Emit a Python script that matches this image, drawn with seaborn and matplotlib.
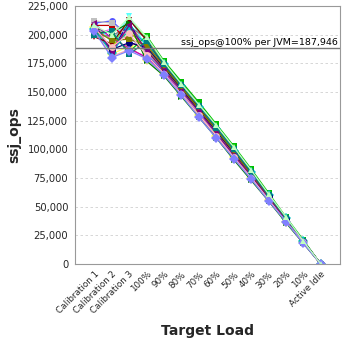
import matplotlib
matplotlib.use("Agg")
import matplotlib.pyplot as plt
import matplotlib.ticker as mticker
import seaborn as sns
import pandas as pd

categories = ["Calibration 1", "Calibration 2", "Calibration 3", "100%", "90%", "80%",
              "70%", "60%", "50%", "40%", "30%", "20%", "10%", "Active Idle"]

# ssj_ops per JVM, thousands
jvm01 = [205, 196, 209, 190, 172, 153, 134, 116, 97, 78, 59, 39, 20, 0]
jvm02 = [210, 212, 198, 185, 170, 151, 133, 115, 96, 77, 58, 39, 19, 0]
jvm03 = [202, 188, 214, 196, 175, 156, 137, 118, 99, 80, 60, 40, 20, 0]
jvm04 = [207, 183, 190, 178, 166, 148, 130, 112, 93, 75, 56, 37, 19, 0]
jvm05 = [200, 205, 201, 193, 173, 155, 136, 117, 98, 79, 59, 39, 20, 0]
jvm06 = [211, 193, 216, 188, 169, 151, 132, 114, 95, 77, 57, 38, 19, 0]
jvm07 = [204, 181, 187, 181, 165, 147, 129, 111, 92, 74, 55, 37, 18, 0]
jvm08 = [199, 199, 207, 197, 176, 158, 139, 120, 101, 81, 61, 40, 20, 0]
jvm09 = [208, 208, 194, 186, 171, 152, 134, 115, 96, 77, 58, 38, 19, 0]
jvm10 = [203, 186, 211, 183, 168, 150, 131, 113, 94, 76, 57, 38, 19, 0]
jvm11 = [206, 201, 185, 199, 177, 159, 141, 122, 103, 83, 62, 41, 21, 0]
jvm12 = [201, 190, 203, 187, 170, 152, 133, 115, 96, 77, 58, 39, 19, 0]
jvm13 = [209, 197, 188, 180, 167, 149, 131, 112, 94, 75, 56, 38, 19, 0]
jvm14 = [205, 184, 205, 192, 174, 155, 137, 118, 99, 80, 60, 40, 20, 0]
jvm15 = [212, 210, 199, 184, 169, 150, 132, 114, 95, 76, 57, 38, 19, 0]
jvm16 = [198, 192, 213, 195, 173, 154, 136, 117, 98, 79, 59, 39, 20, 0]
jvm17 = [207, 187, 193, 189, 171, 153, 134, 116, 97, 78, 59, 39, 20, 0]
jvm18 = [202, 202, 210, 177, 164, 146, 128, 110, 91, 73, 55, 36, 18, 0]
jvm19 = [204, 195, 196, 191, 172, 154, 135, 117, 98, 78, 59, 39, 20, 0]
jvm20 = [210, 185, 208, 186, 169, 151, 133, 114, 95, 77, 58, 38, 19, 0]
jvm21 = [200, 203, 183, 194, 174, 156, 138, 119, 100, 80, 60, 40, 20, 0]
jvm22 = [206, 189, 201, 182, 166, 148, 130, 112, 93, 75, 56, 37, 19, 0]
jvm23 = [203, 180, 186, 179, 165, 147, 128, 110, 92, 74, 55, 37, 18, 0]
jvm24 = [208, 200, 215, 198, 176, 157, 139, 121, 102, 82, 61, 41, 20, 0]

series = [jvm01, jvm02, jvm03, jvm04, jvm05, jvm06, jvm07, jvm08, jvm09, jvm10, jvm11, jvm12,
          jvm13, jvm14, jvm15, jvm16, jvm17, jvm18, jvm19, jvm20, jvm21, jvm22, jvm23, jvm24]

ref_value = 187946
ref_label = "ssj_ops@100% per JVM=187,946"

colors = ["#FF5555", "#5555FF", "#55FF55", "#FFFF55", "#FF55FF", "#55FFFF", "#FFAFAF", "#808080",
          "#C00000", "#0000C0", "#00C000", "#C0C000", "#C000C0", "#00C0C0", "#C0C0C0", "#800000",
          "#000080", "#008000", "#808000", "#800080", "#008080", "#FFC0C0", "#8080FF", "#C0FFC0"]
markers = ["s", "o", "^", "D", "s", "v", "o", ">", "s", "<", "s", "o",
           "^", "D", "s", "v", "o", ">", "s", "<", "s", "o", "D", "^"]

rows = []
for i, vals in enumerate(series):
    name = f"JVM {i + 1}"
    for c, v in zip(categories, vals):
        rows.append({"load": c, "ops": v * 1000, "jvm": name})
df = pd.DataFrame(rows)

sns.set_style("white")
fig = plt.figure(figsize=(3.48, 3.48), dpi=100)
ax = fig.add_axes([0.216, 0.241, 0.761, 0.742])

names = [f"JVM {i + 1}" for i in range(len(series))]
sns.lineplot(data=df, x="load", y="ops", hue="jvm", style="jvm", hue_order=names,
             style_order=names, palette=colors, markers=markers, dashes=False,
             markersize=5, linewidth=0.9, markeredgewidth=0, sort=False,
             legend=False, ax=ax)

ax.axhline(ref_value, color="#777777", linewidth=1.0)
ax.text(14.0, ref_value + 1500, ref_label, ha="right", va="bottom",
        fontsize=6.8, color="black")

ax.set_ylim(0, 225000)
ax.set_xlim(-1.1, 14.1)
ax.yaxis.set_major_locator(mticker.MultipleLocator(25000))
ax.yaxis.set_major_formatter(mticker.FuncFormatter(lambda v, p: f"{int(v):,}"))
ax.grid(axis="y", color="#d0d0d0", linestyle=(0, (3, 3)), linewidth=0.6)
ax.set_axisbelow(True)

ax.set_xticks(range(len(categories)))
ax.set_xticklabels(categories, rotation=45, ha="right", rotation_mode="anchor", fontsize=6.3)
ax.tick_params(axis="y", labelsize=7.2, length=3, color="#888888", pad=2)
ax.tick_params(axis="x", length=3, color="#888888", pad=1)
for s in ax.spines.values():
    s.set_color("#999999")
    s.set_linewidth(0.8)

ax.set_xlabel("Target Load", fontsize=10, fontweight="bold", labelpad=6)
ax.set_ylabel("ssj_ops", fontsize=10, fontweight="bold", labelpad=4)

fig.savefig("out.png", dpi=100)
